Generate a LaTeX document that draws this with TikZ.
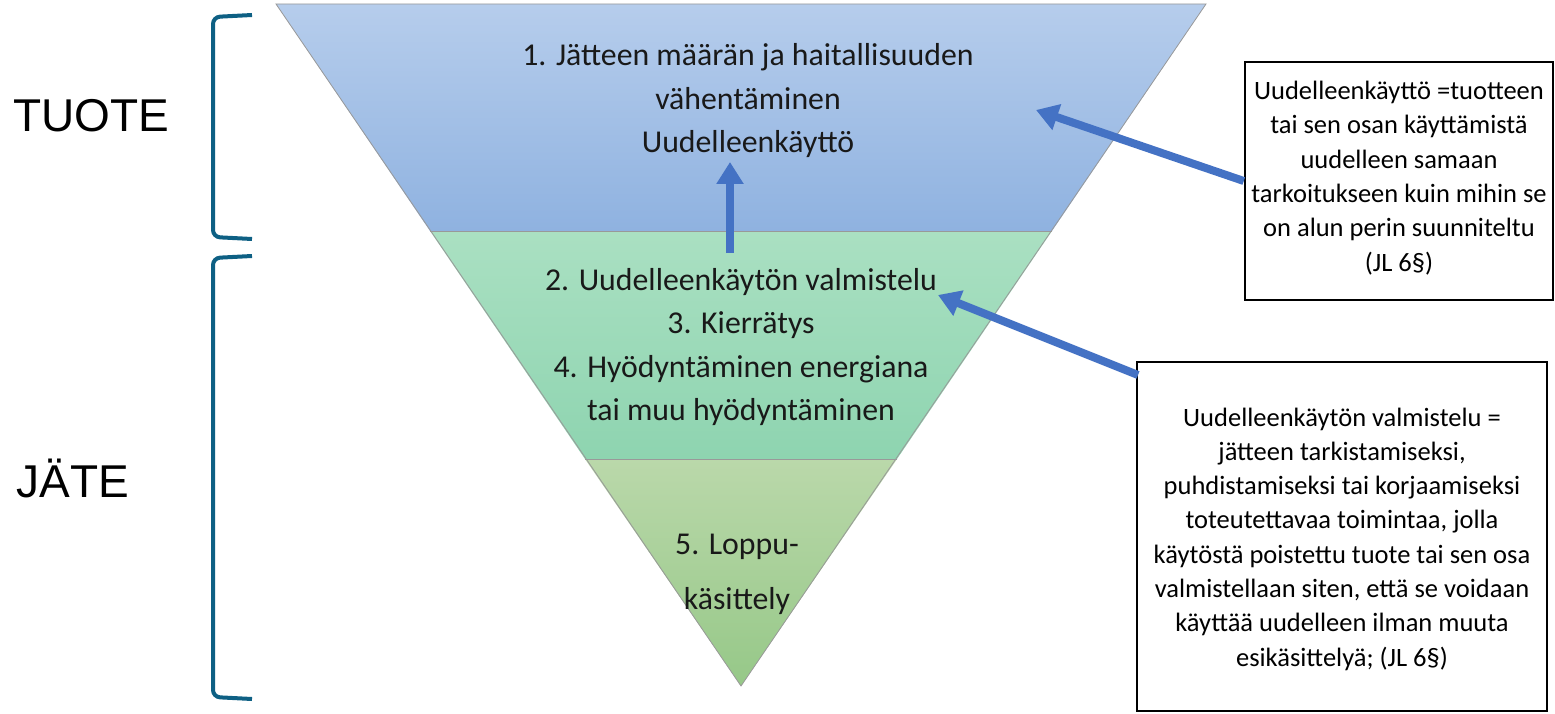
\documentclass[tikz,border=0pt]{standalone}
\usepackage{fontspec}
\setmainfont{Carlito}
\newfontfamily\arialf{Liberation Sans}
\usetikzlibrary{arrows.meta}
\definecolor{brk}{RGB}{14,96,132}
\definecolor{arr}{RGB}{68,114,196}
\definecolor{bluetop}{RGB}{182,205,236}
\definecolor{bluebot}{RGB}{143,178,224}
\definecolor{greentop}{RGB}{170,224,194}
\definecolor{greenbot}{RGB}{142,212,176}
\definecolor{olivetop}{RGB}{186,216,170}
\definecolor{olivebot}{RGB}{150,200,136}
\tikzset{
  band/.style={draw=gray!80, line width=0.8pt},
  bracket/.style={draw=brk, line width=4pt, rounded corners=7pt},
  bigarrow/.style={draw=arr, line width=8pt, -{Triangle[width=26pt,length=22pt]}},
  infobox/.style={draw=black, line width=2.5pt, fill=white, minimum width=#1, inner sep=0pt},
  tritext/.style={align=center, text=black!90, font=\fontsize{31.8}{43.5}\selectfont},
  boxtext/.style={align=center, text=black, font=\fontsize{26.5}{34.3}\selectfont},
  sidelabel/.style={font=\arialf\fontsize{46}{50}\selectfont, anchor=west}
}
\begin{document}
\begin{tikzpicture}[x=1pt,y=-1pt]
\useasboundingbox (0,0) rectangle (1555,714);
% bands
\shade[top color=bluetop, bottom color=bluebot] (276,4) -- (1206,4) -- (1052,231) -- (430,231) -- cycle;
\shade[top color=greentop, bottom color=greenbot] (430,231) -- (1052,231) -- (897,459) -- (585,459) -- cycle;
\shade[top color=olivetop, bottom color=olivebot] (585,459) -- (897,459) -- (741,686) -- cycle;
\draw[band] (276,4) -- (1206,4) -- (741,686) -- cycle;
\draw[band] (430,231) -- (1052,231);
\draw[band] (585,459) -- (897,459);
% brackets
\draw[bracket] (252,15) -- (213,17) -- (213,237) -- (252,239);
\draw[bracket] (252,256) -- (213,258) -- (213,697) -- (252,699);
% side labels
\node[sidelabel] (tuote) at (10,116) {TUOTE};
\node[sidelabel] (jate) at (13,478) {JÄTE};
% triangle texts
\node[tritext] (t1) at (748,101) {1. Jätteen määrän ja haitallisuuden\\vähentäminen\\Uudelleenkäyttö};
\node[tritext] (t2) at (741,347) {2. Uudelleenkäytön valmistelu\\3. Kierrätys\\4. Hyödyntäminen energiana\\tai muu hyödyntäminen};
\node[tritext, font=\fontsize{31.8}{55}\selectfont] (t5) at (737,574) {5. Loppu-\\käsittely};
% boxes
\node[infobox=308pt, minimum height=238pt] (box1) at (1399,181) {};
\node[boxtext] (b1text) at (1399,178) {Uudelleenkäyttö =tuotteen\\tai sen osan käyttämistä\\uudelleen samaan\\tarkoitukseen kuin mihin se\\on alun perin suunniteltu\\(JL 6§)};
\node[infobox=410pt, minimum height=349pt] (box2) at (1342,536.5) {};
\node[boxtext] (b2text) at (1342,539) {Uudelleenkäytön valmistelu =\\jätteen tarkistamiseksi,\\puhdistamiseksi tai korjaamiseksi\\toteutettavaa toimintaa, jolla\\käytöstä poistettu tuote tai sen osa\\valmistellaan siten, että se voidaan\\käyttää uudelleen ilman muuta\\esikäsittelyä; (JL 6§)};
% arrows
\coordinate (up0) at (730,253);
\coordinate (up1) at (730,162);
\coordinate (a2) at (1036,110);
\coordinate (a3s) at (1138,375);
\coordinate (a3) at (938,295);
\draw[bigarrow] (up0) -- (up1);
\draw[bigarrow] (box1.west) -- (a2);
\draw[bigarrow] (a3s) -- (a3);
\end{tikzpicture}
\end{document}
